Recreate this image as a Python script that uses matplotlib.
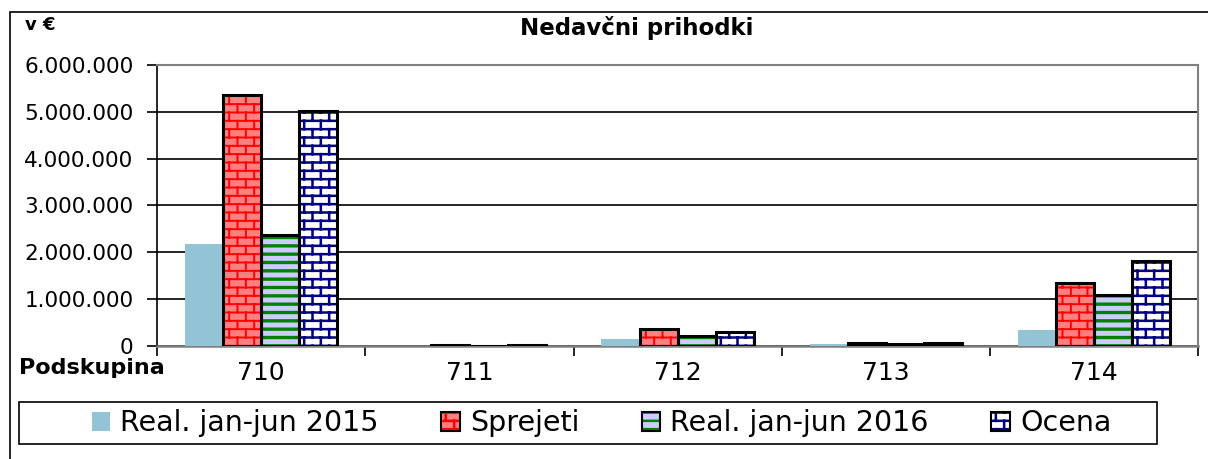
import warnings
import numpy as np
from matplotlib import pyplot as plt
import matplotlib.hatch as mhatch
from matplotlib.path import Path
from matplotlib.patches import Patch, Rectangle
from matplotlib.ticker import FuncFormatter, FixedLocator
from matplotlib.legend_handler import HandlerTuple

warnings.filterwarnings('ignore')

groups = ['710', '711', '712', '713', '714']
series = ['Real. jan-jun 2015', 'Sprejeti', 'Real. jan-jun 2016', 'Ocena']
real_2015 = [2170000, 5000, 150000, 40000, 340000]
sprejeti = [5360000, 15000, 370000, 60000, 1350000]
real_2016 = [2360000, 10000, 210000, 40000, 1100000]
ocena = [5020000, 15000, 290000, 60000, 1810000]

values = [real_2015, sprejeti, real_2016, ocena]
faces = ['#93C4D6', '#FF8080', '#CCCCFF', '#FFFFFF']
hatch_cols = ['#93C4D6', '#FF0000', '#008000', '#000080']
hatches = [None, 'B', '--', 'B']
hatch_lw = [1.0, 1.4, 2.4, 1.8]
borders = [False, True, True, True]


# brick pattern, not in matplotlib, so register one ('B')
class BrickHatch(mhatch.HatchPatternBase):
    def __init__(self, hatch, density):
        n = int(hatch.count('B') * density)
        segs = []
        if n:
            s = 1.0 / n
            for j in range(n):
                for y in (j * s + s / 4, j * s + 3 * s / 4):
                    segs += [(0, y), (1, y)]
            for i in range(n):
                for j in range(n):
                    x = i * s + s / 4
                    segs += [(x, j * s + s / 4), (x, j * s + 3 * s / 4)]
                for j in range(n + 1):
                    x = i * s + 3 * s / 4
                    segs += [(x, j * s - s / 4), (x, j * s + s / 4)]
        self.segs = segs
        self.num_vertices = len(segs)

    def set_vertices_and_codes(self, vertices, codes):
        vertices[:] = self.segs
        codes[0::2] = Path.MOVETO
        codes[1::2] = Path.LINETO


mhatch._hatch_types.append(BrickHatch)

plt.rcParams['font.family'] = ['DejaVu Sans']

fig = plt.figure(figsize=(12.08, 4.59), dpi=100)
ax = fig.add_axes([0.13, 0.246, 0.862, 0.613])

x = np.arange(len(groups))
w = 0.183
handles = []
for i in range(4):
    plt.rcParams['hatch.linewidth'] = hatch_lw[i]
    pos = x + (i - 1.5) * w
    ax.bar(pos, values[i], w, color=faces[i], edgecolor=hatch_cols[i],
           hatch=hatches[i], linewidth=0, zorder=3)
    if borders[i]:
        ax.bar(pos, values[i], w, fill=False, edgecolor='black',
               linewidth=2.2, zorder=4)
        handles.append((Patch(facecolor=faces[i], edgecolor=hatch_cols[i], hatch=hatches[i], linewidth=0),
                        Patch(fill=False, edgecolor='black', linewidth=1.5)))
    else:
        handles.append(Patch(facecolor=faces[i], linewidth=0))

ax.set_xlim(-0.5, len(groups) - 0.5)
ax.set_ylim(0, 6000000)
ax.set_yticks(np.arange(0, 6000001, 1000000))
ax.yaxis.set_major_formatter(FuncFormatter(lambda v, p: f'{int(v):,}'.replace(',', '.')))
ax.grid(axis='y', color='black', linewidth=1.2, zorder=0)
ax.set_axisbelow(True)

ax.set_xticks(x)
ax.set_xticklabels(groups)
ax.xaxis.set_minor_locator(FixedLocator(np.arange(-0.5, len(groups), 1.0)))
ax.tick_params(axis='x', which='major', length=0, labelsize=18, pad=11)
ax.tick_params(axis='x', which='minor', length=7, width=1.2)
ax.tick_params(axis='y', length=7, width=1.2, labelsize=15.5, pad=10)

ax.spines['left'].set_color('black')
ax.spines['left'].set_linewidth(1.2)
for s in ['top', 'right']:
    ax.spines[s].set_color('#808080')
    ax.spines[s].set_linewidth(1.5)
ax.spines['bottom'].set_color('#808080')
ax.spines['bottom'].set_linewidth(1.8)

fig.text(0.527, 0.938, 'Nedavčni prihodki', ha='center', va='center',
         fontsize=16.5, fontweight='bold')
fig.text(0.021, 0.945, 'v €', ha='left', va='center', fontsize=13, fontweight='bold')
fig.text(0.016, 0.199, 'Podskupina', ha='left', va='center', fontsize=16, fontweight='bold')

leg = fig.legend(handles, series, loc='center', bbox_to_anchor=(0.498, 0.078),
                 ncol=4, fontsize=20.5, frameon=False,
                 handlelength=0.65, handleheight=0.65,
                 handletextpad=0.35, columnspacing=2.2, borderpad=0.2,
                 handler_map={tuple: HandlerTuple(ndivide=1)})

# legend box and outer chart border
fig.patches.append(Rectangle((19 / 1208, 1 - 444 / 459), 1138 / 1208, 42 / 459,
                             transform=fig.transFigure, fill=False,
                             edgecolor='black', linewidth=1.2))
fig.patches.append(Rectangle((0.008, -0.05), 1.2, 1.024, transform=fig.transFigure,
                             fill=False, edgecolor='black', linewidth=1.2))

plt.savefig('out.png', dpi=100)
